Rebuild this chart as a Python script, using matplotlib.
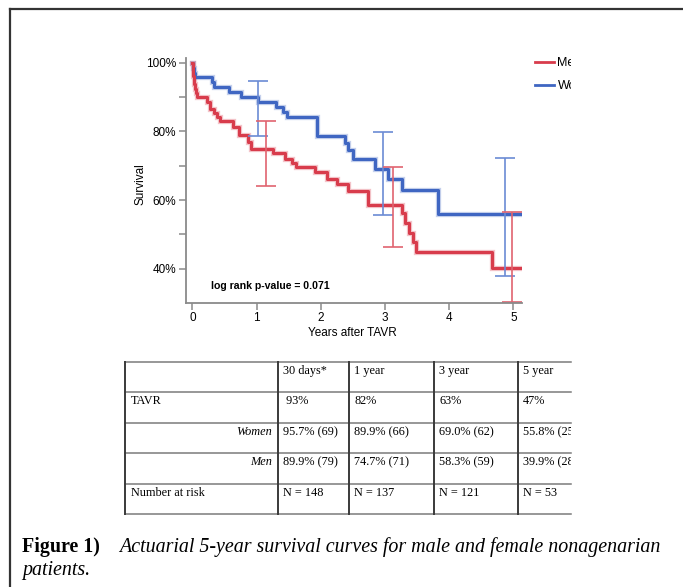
import matplotlib
matplotlib.use("Agg")
import matplotlib.pyplot as plt
from matplotlib.lines import Line2D
from matplotlib.transforms import Bbox, TransformedBbox
import numpy as np

W, H = 683, 587

# Kaplan-Meier style curves (years, survival %)
men_t = [0, 0.005, 0.01, 0.015, 0.02, 0.03, 0.04, 0.05, 0.065, 0.23, 0.27, 0.34, 0.38,
         0.43, 0.64, 0.73, 0.86, 0.92, 1.26, 1.45, 1.55, 1.62, 1.91, 2.10, 2.25, 2.43,
         2.74, 3.26, 3.31, 3.38, 3.44, 3.49, 4.67, 5.10]
men_s = [100, 98.7, 97.5, 96.2, 94.9, 93.7, 92.4, 91.1, 90.1, 88.6, 86.6, 85.4, 84.1,
         83.0, 81.3, 78.9, 77.0, 75.0, 73.6, 72.1, 70.8, 69.7, 68.2, 66.1, 64.6, 62.7,
         58.5, 56.1, 53.4, 50.5, 47.9, 44.9, 40.1, 40.1]

women_t = [0, 0.01, 0.02, 0.04, 0.31, 0.34, 0.57, 0.75, 1.02, 1.30, 1.41, 1.47, 1.94,
           2.37, 2.42, 2.50, 2.84, 3.05, 3.27, 3.83, 5.10]
women_s = [100, 98.6, 97.1, 96.0, 94.4, 93.0, 91.5, 90.1, 88.6, 87.2, 85.8, 84.2, 78.6,
           76.6, 74.5, 72.1, 69.1, 66.2, 63.0, 55.8, 55.8]

# confidence intervals
women_ci_t = [1.02, 2.97, 4.87]
women_ci_lo = [78.6, 55.6, 37.9]
women_ci_hi = [94.7, 79.9, 72.4]
men_ci_t = [1.15, 3.12, 4.98]
men_ci_lo = [64.1, 46.3, 30.3]
men_ci_hi = [83.1, 69.7, 56.6]

# table under the chart
col_heads = ["", "30 days*", "1 year", "3 year", "5 year"]
row_labels = ["TAVR", "Women", "Men", "Number at risk"]
row_cells = [
    [" 93%", "82%", "63%", "47%"],
    ["95.7% (69)", "89.9% (66)", "69.0% (62)", "55.8% (25)"],
    ["89.9% (79)", "74.7% (71)", "58.3% (59)", "39.9% (28)"],
    ["N = 148", "N = 137", "N = 121", "N = 53"],
]

caption_bold = "Figure 1)"
caption_line1 = "Actuarial 5-year survival curves for male and female nonagenarian"
caption_line2 = "patients."

RED = "#d83c4c"
BLUE = "#3f66c2"
RED_CI = "#e0646f"
BLUE_CI = "#6b8bd4"
SANS = "Liberation Sans"
SERIF = "Liberation Serif"


def fx(px):
    return px / W


def fy(py):
    return 1 - py / H


fig = plt.figure(figsize=(W / 100, H / 100), dpi=100)
clip_right = TransformedBbox(Bbox([[0, 0], [fx(571), 1]]), fig.transFigure)

# outer frame (left + top)
fig.add_artist(Line2D([fx(10), fx(10)], [fy(9), 0], color="#333333", lw=1.6))
fig.add_artist(Line2D([fx(10), 1], [fy(9), fy(9)], color="#333333", lw=1.6))

# ---- survival chart
ax = fig.add_axes([fx(186), fy(302.7), fx(521.7) - fx(186), fy(58) - fy(302.7)])
ax.set_xlim(-0.1, 5.13)
ax.set_ylim(30.1, 101.4)
for sp in ["top", "right"]:
    ax.spines[sp].set_visible(False)
for sp in ["left", "bottom"]:
    ax.spines[sp].set_color("#8a8a8a")
    ax.spines[sp].set_linewidth(1.3)

for t, s, c in [(women_t, women_s, BLUE), (men_t, men_s, RED)]:
    ax.step(t, s, where="post", color=c, lw=3.8, alpha=0.3, solid_joinstyle="miter")
ax.step(women_t, women_s, where="post", color=BLUE, lw=2.2, label="Women")
ax.step(men_t, men_s, where="post", color=RED, lw=2.2, label="Men")

for ct, lo, hi, c in [(women_ci_t, women_ci_lo, women_ci_hi, BLUE_CI),
                      (men_ci_t, men_ci_lo, men_ci_hi, RED_CI)]:
    lo = np.array(lo)
    hi = np.array(hi)
    mid = (lo + hi) / 2
    eb = ax.errorbar(ct, mid, yerr=[mid - lo, hi - mid], fmt="none", ecolor=c,
                     elinewidth=1.2, capsize=7, capthick=1.2)
    for a in eb.get_children():
        a.set_clip_on(False)

ax.set_xticks([0, 1, 2, 3, 4, 5])
ax.set_yticks([40, 60, 80, 100])
ax.set_yticklabels(["40%", "60%", "80%", "100%"])
ax.set_yticks([50, 70, 90], minor=True)
ax.tick_params(axis="both", which="both", length=5, width=1.1, color="#8a8a8a",
               labelsize=8.5, pad=2)
for lab in ax.get_xticklabels() + ax.get_yticklabels():
    lab.set_fontfamily(SANS)

ax.set_xlabel("Years after TAVR", fontsize=8.5, family=SANS)
ax.set_ylabel("Survival", fontsize=8.5, family=SANS)
ax.xaxis.set_label_coords(0.497, -0.1)
ax.yaxis.set_label_coords(-0.118, 0.485)

ax.text((210.7 - 186) / (521.7 - 186), 0.07, "log rank p-value = 0.071",
        transform=ax.transAxes, fontsize=7.6, fontweight="bold", family=SANS,
        va="center", ha="left")

handles = [Line2D([], [], color=RED, lw=2), Line2D([], [], color=BLUE, lw=2)]
leg = ax.legend(handles, ["Men", "Women"], loc="upper left",
                bbox_to_anchor=(fx(535), fy(57.5)), bbox_transform=fig.transFigure,
                frameon=False, borderpad=0, borderaxespad=0, handlelength=1.55,
                handletextpad=0.25, labelspacing=0.85, prop={"family": SANS, "size": 9})
for t in leg.get_texts():
    t.set_clip_box(clip_right)
    t.set_clip_on(True)

# ---- table
tx0, tx1, ty0, ty1 = 125, 571, 362.3, 514.3
tab = fig.add_axes([fx(tx0), fy(ty1), fx(tx1) - fx(tx0), fy(ty0) - fy(ty1)])
tab.set_xlim(tx0, tx1)
tab.set_ylim(ty1, ty0)
tab.axis("off")

col_edges = [125, 277.7, 349.3, 434.3, 518.3]
row_edges = [362.3, 392.3, 423.3, 453.3, 484.3, 514.3]
for yy in row_edges:
    tab.plot([tx0, tx1], [yy, yy], color="#7a7a7a", lw=1.1, clip_on=False)
for xx in col_edges:
    tab.plot([xx, xx], [ty0, ty1], color="#3a3a3a", lw=1.4, clip_on=False)

text_kw = dict(fontsize=8.8, family=SERIF, va="center", clip_on=True)
for j, head in enumerate(col_heads):
    tab.text(col_edges[j] + 5, row_edges[0] + 9, head, ha="left", **text_kw)
for i, lab in enumerate(row_labels):
    ry = row_edges[i + 1] + 9
    if lab in ("Women", "Men"):
        tab.text(col_edges[1] - 6, ry, lab, ha="right", style="italic", **text_kw)
    else:
        tab.text(col_edges[0] + 6, ry, lab, ha="left", **text_kw)
    for j, val in enumerate(row_cells[i]):
        tab.text(col_edges[j + 1] + 5, ry, val, ha="left", **text_kw)

# ---- caption
fig.text(fx(22), fy(547), caption_bold, fontsize=14.4, fontweight="bold", family=SERIF,
         va="center", ha="left")
fig.text(fx(660), fy(547), caption_line1, fontsize=14.4, style="italic", family=SERIF,
         va="center", ha="right")
fig.text(fx(22), fy(571), caption_line2, fontsize=14.4, style="italic", family=SERIF,
         va="center", ha="left")

fig.savefig("out.png", dpi=100)
